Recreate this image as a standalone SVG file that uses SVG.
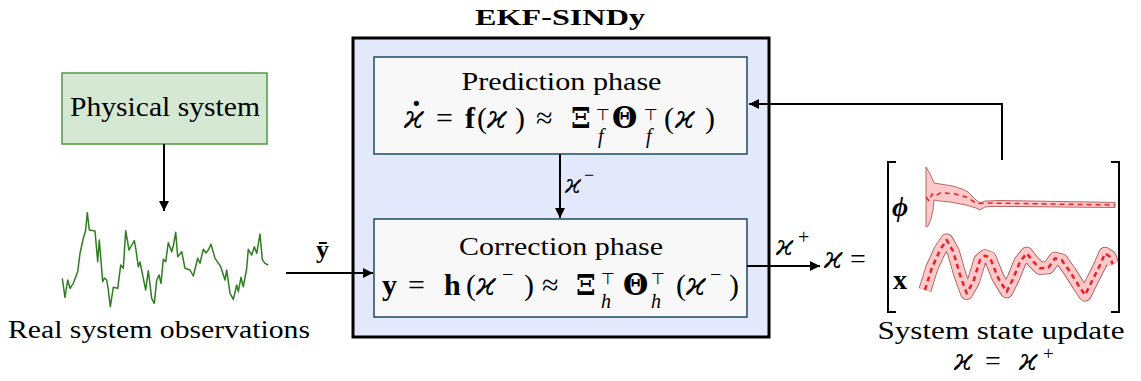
<svg xmlns="http://www.w3.org/2000/svg" width="1141" height="381" viewBox="0 0 1141 381">
<style>
text{font-family:"Liberation Serif",serif;fill:#000}
.k{font-family:"DejaVu Serif",serif;font-style:italic}
.g{font-family:"DejaVu Serif",serif;font-weight:bold}
.b{font-weight:bold}
.i{font-style:italic}
.sym{font-family:"DejaVu Sans",sans-serif}
.conn{stroke:#000;stroke-width:2;fill:none}
.inner{fill:#f8f8f8;stroke:#1d4a62;stroke-width:1.5}
</style>
<defs>
<marker id="ah" viewBox="0 0 10 10" refX="10" refY="5" markerUnits="userSpaceOnUse" markerWidth="11" markerHeight="10" orient="auto">
<path d="M0,0 L10,5 L0,10 z" fill="#000"/>
</marker>
<path id="xc" d="M925,290 L931.7,268.3 L940,250 L946.7,240 L953.3,251.7 L960,275 L966.7,293.3 L973.3,281.7 L980,260 L985,255.7 L990,257.7 L998.3,278.3 L1006.7,291.7 L1013.3,278.3 L1020,261.7 L1026.7,253.3 L1033.3,261.7 L1040,268.3 L1048.3,267.7 L1055,258.3 L1061.7,260 L1070,271.7 L1078.3,285 L1085,295 L1091.7,281.7 L1100,265 L1105,253.3 L1110,256.7 L1112.7,264.3" fill="none" stroke-linejoin="round"/>
</defs>
<rect width="1141" height="381" fill="#fff"/>

<g id="physical-system">
<rect x="62" y="73" width="205" height="71" fill="#d5e8d4" stroke="#4e9a3f" stroke-width="1.5"/>
<text x="165" y="116" font-size="27" text-anchor="middle" textLength="190" lengthAdjust="spacingAndGlyphs">Physical system</text>
</g>

<g id="observations">
<polyline fill="none" stroke="#2e7d1f" stroke-width="1.5" stroke-linejoin="round" points="62.3,278.3 65,297.3 67.7,280 70,288.3 73.3,283.3 77.7,271.7 80,253.3 83.3,238.3 85.5,231 87.3,212.7 89.3,230 95,231 97.7,261.7 99.3,240 102.7,281.7 104.5,278 106.7,280 108.3,290 110.3,306.7 113.3,287.3 117.7,288.3 120.7,265 123.3,268.3 125.7,230.7 129,250 134.3,240.7 136,250 138.3,266.7 140,262 142.3,273.3 145.7,290 148.3,270.7 151.7,298.3 154.3,303.3 156.7,280 159,275 161,283.3 163.3,259.3 165.7,261.7 168.3,242.7 171.7,251.7 173.5,245 175.7,232.3 177.7,256.7 181.7,251.7 185,268.3 190,270 193.3,276 197.7,258.3 200,263.3 203.3,249.3 206,253 208.3,250 211,244.3 215,258.3 220.7,266.7 225,280 226.7,270 230,293.3 233.3,299.3 236.7,285 238.3,291.7 241,277.3 243.3,286.7 246.7,268.3 248.3,249.3 251.7,255 254.3,246.7 256.7,253.3 260,234 262.3,259.3 265,263.3 268.3,265"/>
<text x="159" y="338" font-size="25" text-anchor="middle" textLength="302" lengthAdjust="spacingAndGlyphs">Real system observations</text>
</g>

<g id="ekf-sindy">
<text class="b" x="560" y="25" font-size="24" text-anchor="middle" textLength="170" lengthAdjust="spacingAndGlyphs">EKF-SINDy</text>
<rect x="353" y="38" width="416" height="299" fill="#e4e8fb" stroke="#000" stroke-width="3"/>
</g>

<g id="prediction-phase">
<rect class="inner" x="374" y="57" width="373" height="97"/>
<text x="561.5" y="90" font-size="25" text-anchor="middle" textLength="200" lengthAdjust="spacingAndGlyphs">Prediction phase</text>
<text font-size="30">
<tspan class="k" x="404" y="128" font-size="32">ϰ</tspan>
<tspan x="436" y="128">=</tspan>
<tspan class="b" x="465" y="128">f</tspan>
<tspan x="477" y="128">(</tspan>
<tspan class="k" x="487" y="128" font-size="32">ϰ</tspan>
<tspan x="515" y="128">)</tspan>
<tspan x="536" y="128">≈</tspan>
<tspan class="g" x="571" y="128" font-size="28">Ξ</tspan>
<tspan class="g" x="612" y="128" font-size="29">Θ</tspan>
<tspan x="664" y="128">(</tspan>
<tspan class="k" x="675" y="128" font-size="32">ϰ</tspan>
<tspan x="705" y="128">)</tspan>
</text>
<text x="411" y="114" font-size="32" font-weight="bold">·</text>
<text class="sym" font-size="16"><tspan x="596" y="120">⊤</tspan><tspan x="644" y="120">⊤</tspan></text>
<text class="i" font-size="20"><tspan x="598" y="143">f</tspan><tspan x="646" y="143">f</tspan></text>
</g>

<g id="correction-phase">
<rect class="inner" x="374" y="219" width="373" height="98"/>
<text x="561" y="255" font-size="25" text-anchor="middle" textLength="204" lengthAdjust="spacingAndGlyphs">Correction phase</text>
<text font-size="30">
<tspan class="b" x="382" y="295">y</tspan>
<tspan x="408" y="295">=</tspan>
<tspan class="b" x="444" y="295">h</tspan>
<tspan x="466" y="295">(</tspan>
<tspan class="k" x="476" y="295" font-size="32">ϰ</tspan>
<tspan x="524" y="295">)</tspan>
<tspan x="542" y="295">≈</tspan>
<tspan class="g" x="576" y="295" font-size="28">Ξ</tspan>
<tspan class="g" x="623" y="295" font-size="29">Θ</tspan>
<tspan x="676" y="295">(</tspan>
<tspan class="k" x="686" y="295" font-size="32">ϰ</tspan>
<tspan x="729" y="295">)</tspan>
</text>
<text font-size="20"><tspan x="502" y="281">−</tspan><tspan x="710" y="281">−</tspan></text>
<text class="sym" font-size="16"><tspan x="601" y="284">⊤</tspan><tspan x="651" y="284">⊤</tspan></text>
<text class="i" font-size="20"><tspan x="601" y="308">h</tspan><tspan x="651" y="308">h</tspan></text>
</g>

<g id="state-update">
<text font-size="28"><tspan class="k" x="824" y="268" font-size="30">ϰ</tspan><tspan x="850" y="268">=</tspan></text>
<path d="M896,162 H888 V312 H896 M1111,162 H1119 V312 H1111" fill="none" stroke="#000" stroke-width="2"/>
<text class="b i" x="892" y="216" font-size="28">ϕ</text>
<text class="b" x="893" y="289" font-size="28">x</text>
<polygon fill="#ffc9c9" stroke="#a24848" stroke-width="0.8" points="926,167 929,172 932,178 934,183 940,184 953,186 962,189 968,192 972,196 976,200 980,203 985,201 1000,200.5 1030,201 1060,201.5 1090,202 1115,202.5 1115,207.5 1060,207 1020,206.5 990,206.5 985,207 980,210 976,208 966,205 950,202 940,201 934,200 933,210 931,219 928,226 926,227"/>
<polyline fill="none" stroke="#e8202a" stroke-width="1.5" stroke-dasharray="5 4" points="926,197 929,201 932,194 935,196 941,192.5 955,194 966,197 977,203.5 987,203 1115,205"/>
<use href="#xc" stroke="#a24848" stroke-width="13"/>
<use href="#xc" stroke="#ffc9c9" stroke-width="11.5"/>
<use href="#xc" stroke="#e8202a" stroke-width="2.5" stroke-dasharray="5 4"/>
<text x="1001" y="339" font-size="25" text-anchor="middle" textLength="247" lengthAdjust="spacingAndGlyphs">System state update</text>
<text font-size="28"><tspan class="k" x="954" y="370" font-size="30">ϰ</tspan><tspan x="985" y="370">=</tspan><tspan class="k" x="1019" y="370" font-size="30">ϰ</tspan></text>
<text x="1043" y="360" font-size="19">+</text>
</g>

<g id="connectors">
<line class="conn" x1="164" y1="144" x2="164" y2="211" marker-end="url(#ah)"/>
<line class="conn" x1="286" y1="273" x2="373" y2="273" marker-end="url(#ah)"/>
<line class="conn" x1="560" y1="154" x2="560" y2="218" marker-end="url(#ah)"/>
<line class="conn" x1="747" y1="266" x2="820" y2="266" marker-end="url(#ah)"/>
<polyline class="conn" points="1002,160 1002,104 749,104" marker-end="url(#ah)"/>
<text class="b" x="316" y="258" font-size="26">ȳ</text>
<text class="k" x="565" y="193" font-size="26">ϰ</text>
<text x="584" y="181" font-size="18">−</text>
<text class="k" x="776" y="255" font-size="28">ϰ</text>
<text x="798" y="244" font-size="20">+</text>
</g>
</svg>
